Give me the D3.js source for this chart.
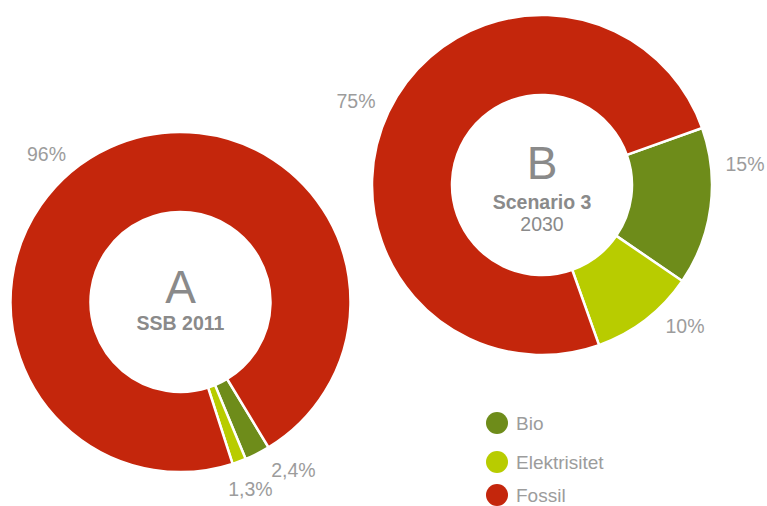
<!DOCTYPE html>
<html>
<head>
<meta charset="utf-8">
<script src="https://cdn.jsdelivr.net/npm/d3@7"></script>
<style>
  body { margin: 0; background: #fff; }
  svg { display: block; font-family: "Liberation Sans", Arial, sans-serif; }
</style>
</head>
<body>
<svg id="chart" width="767" height="506"></svg>
<script>
// Data
const categories = ['Bio', 'Elektrisitet', 'Fossil'];
const colors = ['#6e8c1a', '#b8cc00', '#c4260c'];
const valuesA = [2.4, 1.3, 96];
const labelsA = ['2,4%', '1,3%', '96%'];
const valuesB = [15, 10, 75];
const labelsB = ['15%', '10%', '75%'];

const svg = d3.select('#chart');
const color = d3.scaleOrdinal().domain(categories).range(colors);

function drawDonut(cfg) {
    const g = svg.append('g').attr('transform', `translate(${cfg.cx},${cfg.cy})`);
    const data = categories.map((c, i) => ({ name: c, value: cfg.values[i], label: cfg.labels[i] }));

    const pie = d3.pie()
        .sort(null)
        .value(d => d.value)
        .startAngle(cfg.start)
        .endAngle(cfg.start + 2 * Math.PI);

    const arc = d3.arc().innerRadius(90).outerRadius(170);
    const arcs = pie(data);

    g.selectAll('path')
        .data(arcs)
        .enter()
        .append('path')
        .attr('d', arc)
        .attr('fill', d => color(d.data.name))
        .attr('stroke', 'white')
        .attr('stroke-width', 2.5);

    // percentage labels
    g.selectAll('.pct')
        .data(arcs)
        .enter()
        .append('text')
        .attr('class', 'pct')
        .attr('x', (d, i) => cfg.labelPos[i][0])
        .attr('y', (d, i) => cfg.labelPos[i][1])
        .attr('text-anchor', 'middle')
        .attr('font-size', '19.5px')
        .attr('fill', '#9c9c9c')
        .text(d => d.data.label);

    // center titles
    g.append('text')
        .attr('y', cfg.letterY)
        .attr('text-anchor', 'middle')
        .attr('font-size', '46px')
        .attr('font-weight', 300)
        .attr('fill', '#8a8a8a')
        .text(cfg.letter);

    cfg.sub.forEach((s, i) => {
        g.append('text')
            .attr('y', cfg.subY + i * 22)
            .attr('text-anchor', 'middle')
            .attr('font-size', '19.5px')
            .attr('font-weight', s.bold ? 'bold' : 'normal')
            .attr('fill', '#8a8a8a')
            .text(s.text);
    });
}

const deg = Math.PI / 180;

drawDonut({
    cx: 180.5, cy: 302,
    values: valuesA, labels: labelsA,
    start: 148.8 * deg,
    labelPos: [[113, 175], [70, 194], [-134, -141]],
    letter: 'A', letterY: 1,
    sub: [{ text: 'SSB 2011', bold: true }],
    subY: 28
});

drawDonut({
    cx: 542, cy: 185,
    values: valuesB, labels: labelsB,
    start: 70.4 * deg,
    labelPos: [[203, -14], [143, 148], [-186, -77]],
    letter: 'B', letterY: -6,
    sub: [{ text: 'Scenario 3', bold: true }, { text: '2030', bold: false }],
    subY: 24
});

// Legend
const legend = svg.append('g').attr('transform', 'translate(497,423)');
const item = legend.selectAll('g')
    .data(categories)
    .enter()
    .append('g')
    .attr('transform', (d, i) => `translate(0, ${[0, 39, 72][i]})`);

item.append('circle')
    .attr('r', 11)
    .attr('fill', d => color(d));

item.append('text')
    .attr('x', 19)
    .attr('y', 7)
    .attr('font-size', '19px')
    .attr('fill', '#9c9c9c')
    .text(d => d);
</script>
</body>
</html>
